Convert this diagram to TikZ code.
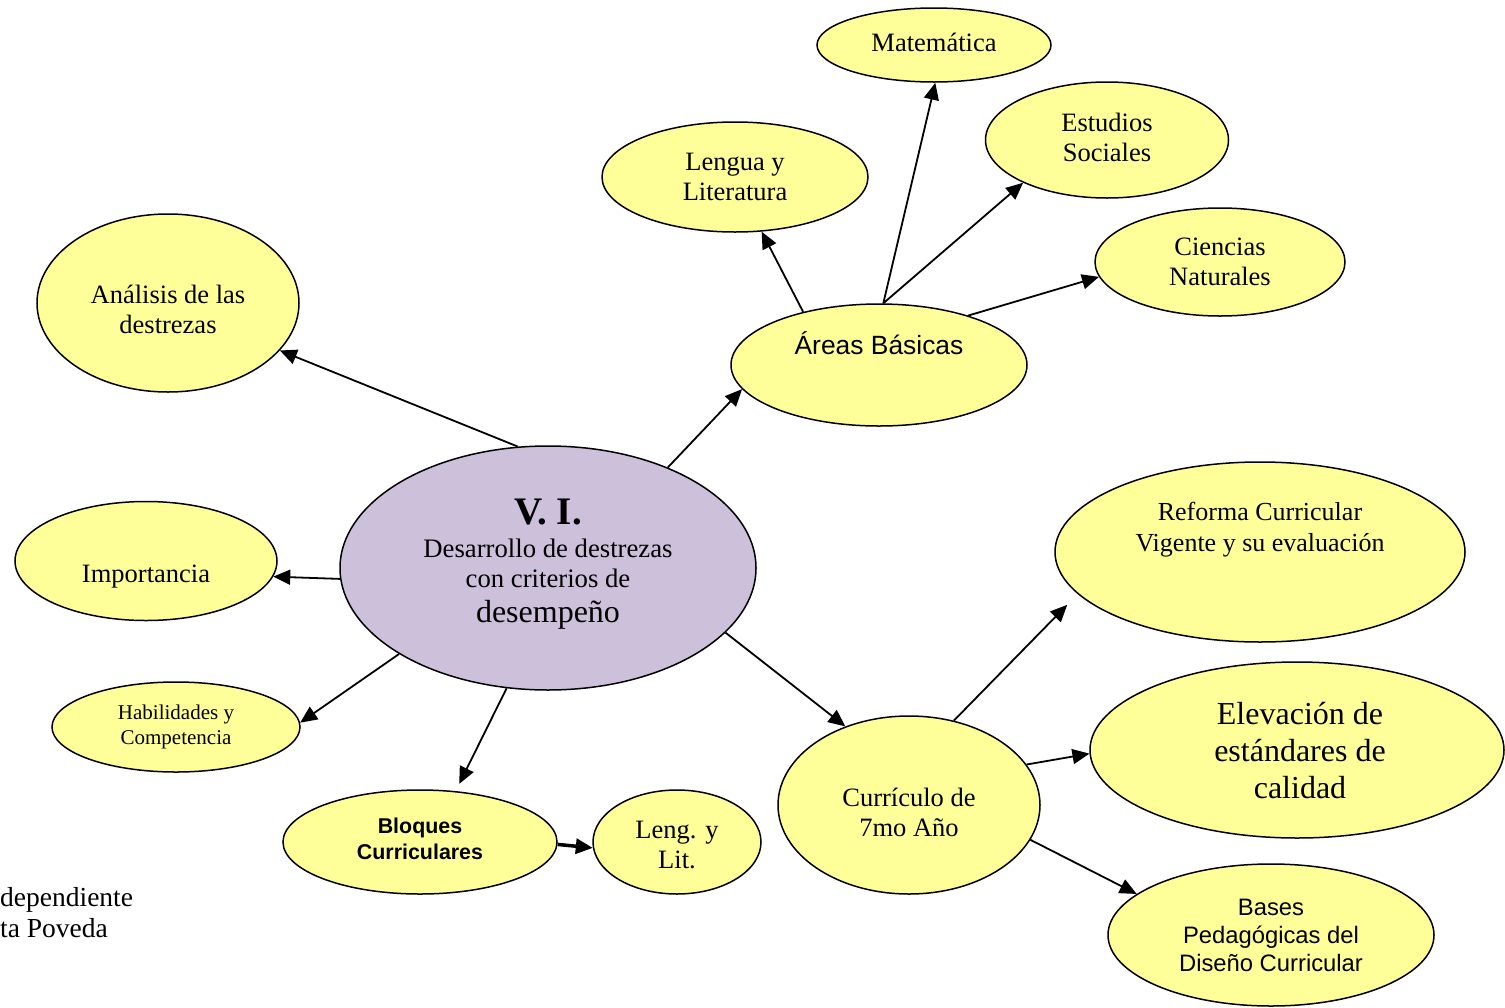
\documentclass[tikz,border=0pt]{standalone}
\usepackage{fontspec}
\setmainfont{Liberation Serif}
\newfontfamily\arial{Liberation Sans}
\usetikzlibrary{shapes.geometric,arrows.meta}
\definecolor{amarillo}{HTML}{FFFF99}
\definecolor{lila}{HTML}{CCC0DA}
\newcommand\letra[2]{\fontsize{#1}{#2}\selectfont}
\tikzset{
  burbuja/.style={ellipse,draw,line width=1.5pt,fill=amarillo,inner sep=0pt,align=center,font=\letra{26.5}{30}},
  texto/.style={align=center,inner sep=0pt,font=\letra{26.5}{30}},
  flecha/.style={-{Triangle[length=17pt 0 0,width=15pt 0 0]},line width=1.8pt},
}
\begin{document}
\begin{tikzpicture}[x=1pt,y=-1pt]
  \useasboundingbox (0,0) rectangle (1505,1007);
  % nodo central
  \node[burbuja,fill=lila,minimum width=416,minimum height=244] (vi) at (548,568) {};
  \node[texto,font=\letra{26.7}{30}] (vi-t) at (548,564)
    {{\letra{39}{40}\bfseries V. I.}\\[3pt]
     Desarrollo de destrezas\\
     con criterios de\\[5pt]
     {\letra{32}{36}desempeño}};
  % areas basicas
  \node[burbuja,minimum width=296,minimum height=122] (areas) at (879,365) {};
  \node[texto,font=\arial\letra{26.4}{30}] (areas-t) at (879,343) {Áreas Básicas};
  \node[burbuja,minimum width=234,minimum height=74] (matematica) at (934,45) {};
  \node[texto] (matematica-t) at (934,42) {Matemática};
  \node[burbuja,minimum width=266,minimum height=110] (lengua) at (735,177) {Lengua y\\Literatura};
  \node[burbuja,minimum width=243,minimum height=116] (estudios) at (1107,140) {};
  \node[texto] (estudios-t) at (1107,137) {Estudios\\Sociales};
  \node[burbuja,minimum width=250,minimum height=108] (ciencias) at (1220,262) {Ciencias\\Naturales};
  % lado izquierdo
  \node[burbuja,minimum width=262,minimum height=178] (analisis) at (168,303) {};
  \node[texto] (analisis-t) at (168,309) {Análisis de las\\destrezas};
  \node[burbuja,minimum width=262,minimum height=119] (importancia) at (146,561) {};
  \node[texto] (importancia-t) at (146,577) {Importancia};
  \node[burbuja,minimum width=248,minimum height=90,font=\letra{21}{25}] (habilidades) at (176,727) {Habilidades y\\Competencia};
  \node[burbuja,minimum width=274,minimum height=104] (bloques) at (420,842) {};
  \node[texto,font=\arial\bfseries\letra{21.4}{26}] (bloques-t) at (420,839) {Bloques\\Curriculares};
  \node[burbuja,minimum width=168,minimum height=104] (leng) at (677,842) {};
  \node[texto] (leng-t) at (677,845) {Leng. y\\Lit.};
  % curriculo
  \node[burbuja,minimum width=262,minimum height=178] (curriculo) at (909,805) {};
  \node[texto] (curriculo-t) at (909,812) {Currículo de\\7mo Año};
  \node[burbuja,minimum width=410,minimum height=180] (reforma) at (1260,552) {};
  \node[texto,font=\letra{26}{31}] (reforma-t) at (1260,530) {Reforma Curricular\\Vigente y su evaluación};
  \node[burbuja,minimum width=414,minimum height=176] (elevacion) at (1297,750) {};
  \node[texto,font=\letra{32}{37}] (elevacion-t) at (1300,751) {Elevación de\\estándares de\\calidad};
  \node[burbuja,minimum width=326,minimum height=142,font=\arial\letra{23.8}{28}] (bases) at (1271,935) {Bases\\Pedagógicas del\\Diseño Curricular};
  % texto cortado
  \node[anchor=north west,align=left,inner sep=0pt,font=\letra{27.5}{31}] (pie) at (0,887) {dependiente\\ta Poveda};
  % flechas
  \draw[flecha] (vi.104) -- (analisis.-23);
  \draw[flecha] (vi.183) -- (importancia.-7);
  \draw[flecha] (vi.210) -- (habilidades.2);
  \draw[flecha,shorten >=8pt] (vi.251) -- (bloques.55);
  \draw[flecha] (vi.40) -- (areas.190);
  \draw[flecha] (vi.-20) -- (curriculo.129);
  \draw[flecha] (areas.145) -- (lengua.-64);
  \draw[flecha] (areas.86) -- (matematica.-88);
  \draw[flecha] (areas.86) -- (estudios.207);
  \draw[flecha] (areas.29) -- (ciencias.187);
  \draw[flecha,line width=3.5pt] (bloques.-1) -- (leng.184);
  \draw[flecha,shorten >=15pt] (curriculo.62) -- (reforma.193);
  \draw[flecha] (curriculo.19) -- (elevacion.181);
  \draw[flecha] (curriculo.-16) -- (bases.163);
\end{tikzpicture}
\end{document}
